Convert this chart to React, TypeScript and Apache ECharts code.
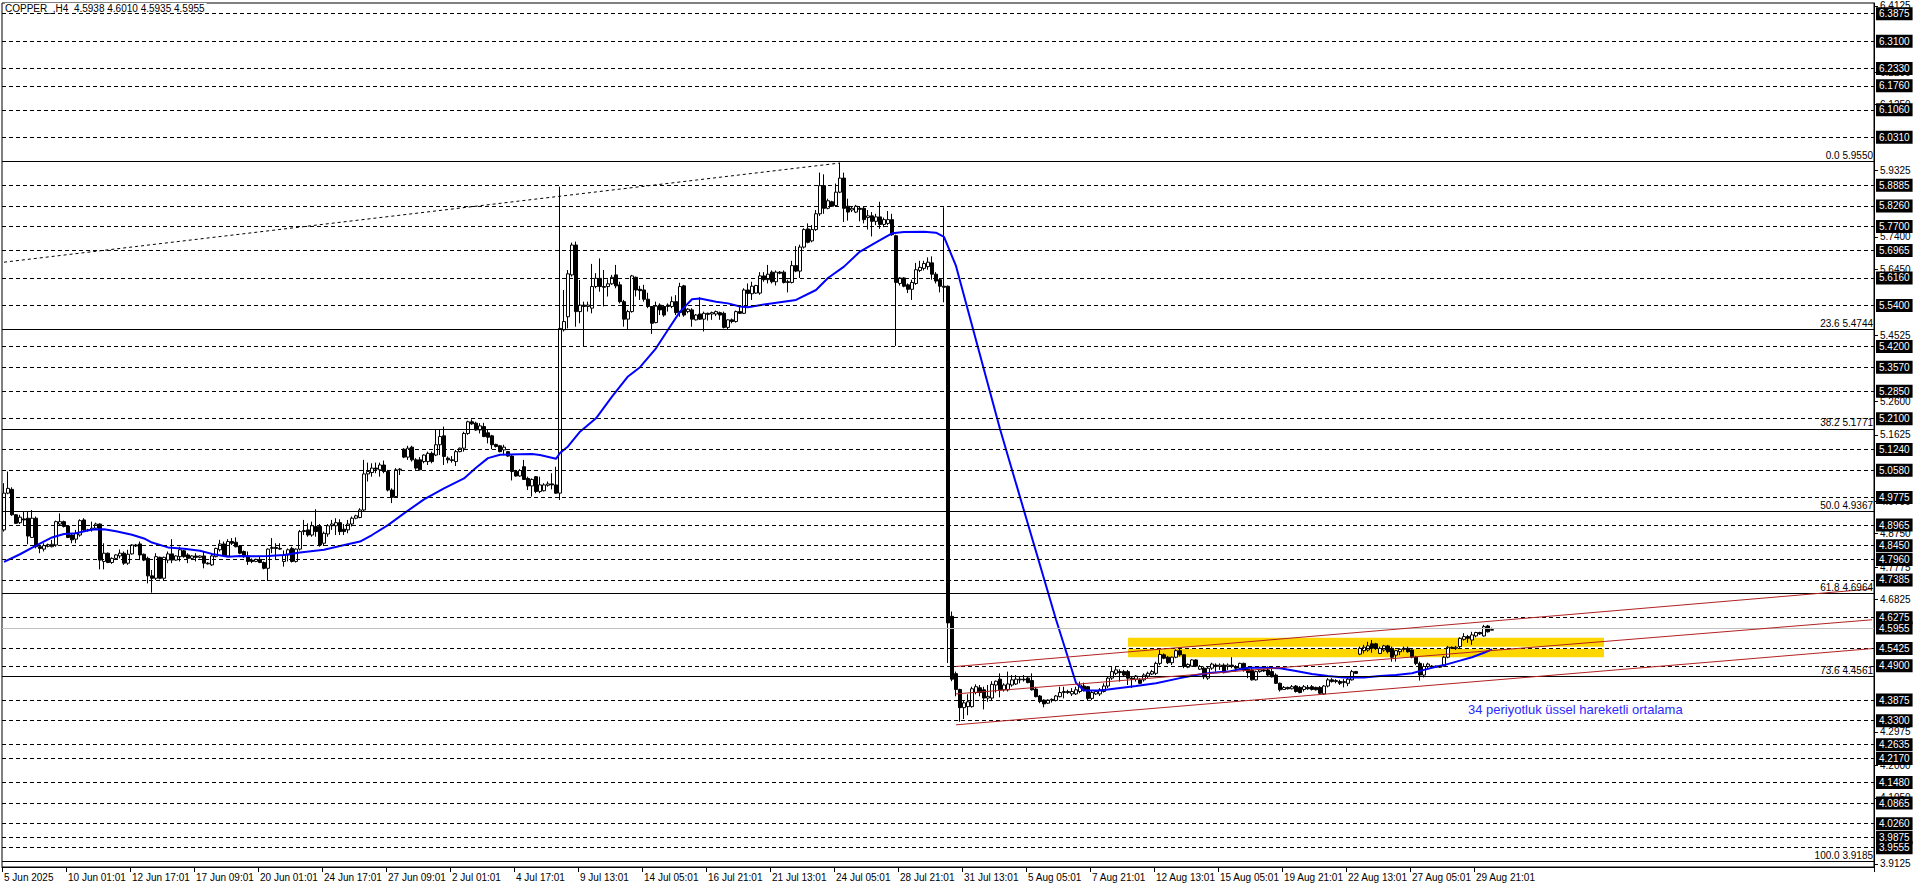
import React, { useEffect, useRef } from 'react';
import * as echarts from 'echarts';

const FONT = 'Liberation Sans, Arial, sans-serif';
const SLOTS = 468;
const Y_MIN = 3.9037;
const Y_MAX = 6.4212;

const titleText = 'COPPER_,H4  4.5938 4.6010 4.5935 4.5955';
const emaNote = '34 periyotluk üssel hareketli ortalama';

const dateLabels = [
  '5 Jun 2025', '10 Jun 01:01', '12 Jun 17:01', '17 Jun 09:01', '20 Jun 01:01', '24 Jun 17:01',
  '27 Jun 09:01', '2 Jul 01:01', '4 Jul 17:01', '9 Jul 13:01', '14 Jul 05:01', '16 Jul 21:01',
  '21 Jul 13:01', '24 Jul 05:01', '28 Jul 21:01', '31 Jul 13:01', '5 Aug 05:01', '7 Aug 21:01',
  '12 Aug 13:01', '15 Aug 05:01', '19 Aug 21:01', '22 Aug 13:01', '27 Aug 05:01', '29 Aug 21:01',
];

const yTicks = [6.4125, 6.22, 6.125, 5.9325, 5.74, 5.645, 5.4525,
  5.26, 5.1625, 4.97, 4.875, 4.7775, 4.6825, 4.2975, 4.2, 4.105, 3.9125];

// horizontal dashed levels with boxed labels
const hLevels = [6.3875, 6.31, 6.233, 6.176, 6.106, 6.031, 5.8885, 5.826, 5.77, 5.6965, 5.616, 5.54,
  5.42, 5.357, 5.285, 5.21, 5.124, 5.058, 4.9775, 4.8965, 4.845, 4.796, 4.7385, 4.6275, 4.5425, 4.49,
  4.3875, 4.33, 4.2635, 4.217, 4.148, 4.0865, 4.026, 3.9875, 3.9555];

// fibonacci levels [percent, price]
const fibLevels = [[0.0, 5.955], [23.6, 5.4744], [38.2, 5.1771], [50.0, 4.9367], [61.8, 4.6964], [73.6, 4.4561], [100.0, 3.9185]];
const fibDiagonal = [[0, 5.666], [209, 5.955]];
const lastPrice = 4.5955;

// red channel lines [[barFrom, price], [barTo, price]]
const channelLines = [
  [[238, 4.488], [467, 4.714]],
  [[238, 4.408], [467, 4.624]],
  [[238, 4.318], [467, 4.540]],
];

// yellow zone
const zoneBars = [281, 400];
const zoneUpper = [4.5454, 4.572];
const zoneLower = [4.515, 4.5396];

// candles: [open, close, low, high]
const ohlc = [
  [4.886, 4.993, 4.881, 5.022], [4.993, 5.007, 4.990, 5.056], [5.004, 4.930, 4.927, 5.010], [4.930, 4.905, 4.903, 4.932],
  [4.907, 4.923, 4.903, 4.930], [4.918, 4.915, 4.900, 4.939], [4.920, 4.868, 4.844, 4.939], [4.864, 4.920, 4.863, 4.944],
  [4.920, 4.837, 4.832, 4.925], [4.837, 4.832, 4.818, 4.842], [4.830, 4.840, 4.823, 4.847], [4.838, 4.843, 4.835, 4.846],
  [4.837, 4.844, 4.835, 4.857], [4.842, 4.910, 4.837, 4.913], [4.903, 4.910, 4.897, 4.934], [4.910, 4.896, 4.893, 4.913],
  [4.897, 4.864, 4.862, 4.900], [4.871, 4.857, 4.847, 4.876], [4.859, 4.876, 4.847, 4.886], [4.871, 4.913, 4.866, 4.917],
  [4.915, 4.886, 4.881, 4.920], [4.886, 4.884, 4.881, 4.889], [4.886, 4.891, 4.881, 4.910], [4.891, 4.903, 4.886, 4.907],
  [4.903, 4.798, 4.771, 4.905], [4.794, 4.818, 4.771, 4.847], [4.818, 4.791, 4.789, 4.820], [4.791, 4.803, 4.787, 4.806],
  [4.803, 4.813, 4.801, 4.815], [4.810, 4.818, 4.803, 4.829], [4.818, 4.789, 4.784, 4.823], [4.789, 4.815, 4.784, 4.828],
  [4.816, 4.842, 4.814, 4.844], [4.842, 4.839, 4.836, 4.845], [4.845, 4.813, 4.798, 4.852], [4.815, 4.798, 4.795, 4.817],
  [4.803, 4.752, 4.730, 4.808], [4.752, 4.745, 4.703, 4.769], [4.745, 4.808, 4.740, 4.818], [4.806, 4.745, 4.742, 4.808],
  [4.745, 4.806, 4.740, 4.808], [4.798, 4.816, 4.789, 4.823], [4.816, 4.798, 4.789, 4.859], [4.798, 4.810, 4.796, 4.812],
  [4.808, 4.828, 4.794, 4.837], [4.825, 4.808, 4.805, 4.828], [4.813, 4.803, 4.789, 4.818], [4.803, 4.810, 4.800, 4.812],
  [4.810, 4.806, 4.794, 4.818], [4.806, 4.810, 4.803, 4.812], [4.810, 4.789, 4.774, 4.823], [4.789, 4.787, 4.785, 4.792],
  [4.784, 4.810, 4.781, 4.816], [4.808, 4.832, 4.806, 4.834], [4.828, 4.845, 4.823, 4.857], [4.845, 4.810, 4.808, 4.852],
  [4.810, 4.852, 4.808, 4.859], [4.852, 4.847, 4.842, 4.862], [4.850, 4.837, 4.835, 4.864], [4.839, 4.818, 4.815, 4.842],
  [4.823, 4.808, 4.805, 4.826], [4.810, 4.794, 4.784, 4.823],
  // 62
  [4.798, 4.794, 4.789, 4.803], [4.794, 4.800, 4.792, 4.802], [4.800, 4.791, 4.789, 4.808], [4.791, 4.774, 4.771, 4.794],
  [4.774, 4.830, 4.737, 4.832], [4.832, 4.835, 4.818, 4.862], [4.835, 4.832, 4.798, 4.847], [4.832, 4.830, 4.828, 4.847],
  [4.794, 4.813, 4.779, 4.826], [4.813, 4.828, 4.794, 4.832], [4.832, 4.794, 4.791, 4.837], [4.794, 4.830, 4.791, 4.832],
  [4.830, 4.881, 4.826, 4.886], [4.881, 4.884, 4.871, 4.915], [4.886, 4.871, 4.866, 4.905], [4.871, 4.898, 4.866, 4.910],
  [4.896, 4.881, 4.866, 4.946], [4.896, 4.842, 4.837, 4.903], [4.847, 4.876, 4.839, 4.881], [4.874, 4.898, 4.866, 4.903],
  [4.898, 4.903, 4.886, 4.915], [4.898, 4.907, 4.871, 4.920], [4.907, 4.881, 4.871, 4.917], [4.888, 4.881, 4.871, 4.903],
  [4.886, 4.903, 4.876, 4.915], [4.903, 4.920, 4.896, 4.925], [4.920, 4.927, 4.917, 4.930], [4.922, 4.944, 4.920, 4.949],
  [4.944, 5.049, 4.939, 5.090], [5.049, 5.056, 5.027, 5.082], [5.053, 5.066, 5.041, 5.080], [5.066, 5.063, 5.051, 5.082],
  [5.061, 5.075, 5.041, 5.082], [5.075, 5.056, 5.051, 5.088], [5.056, 5.002, 4.998, 5.061], [5.002, 4.981, 4.964, 5.007],
  [4.983, 5.061, 4.981, 5.066], [5.061, 5.063, 5.046, 5.066], [5.121, 5.098, 5.095, 5.124], [5.098, 5.124, 5.090, 5.131],
  [5.127, 5.090, 5.085, 5.131], [5.090, 5.066, 5.061, 5.095], [5.090, 5.061, 5.059, 5.098], [5.085, 5.104, 5.080, 5.106],
  [5.085, 5.109, 5.075, 5.114], [5.109, 5.085, 5.080, 5.114], [5.104, 5.134, 5.101, 5.179], [5.134, 5.158, 5.104, 5.177],
  [5.160, 5.100, 5.075, 5.187], [5.095, 5.090, 5.080, 5.100], [5.090, 5.088, 5.082, 5.101], [5.085, 5.114, 5.072, 5.119],
  [5.114, 5.124, 5.112, 5.126], [5.124, 5.167, 5.114, 5.172], [5.167, 5.201, 5.163, 5.204], [5.201, 5.195, 5.192, 5.208],
  [5.197, 5.177, 5.175, 5.201], [5.177, 5.189, 5.167, 5.197], [5.187, 5.158, 5.156, 5.198], [5.169, 5.156, 5.138, 5.177],
  [5.160, 5.134, 5.121, 5.163], [5.135, 5.129, 5.126, 5.137], [5.131, 5.114, 5.112, 5.133],
  // 125
  [5.119, 5.127, 5.104, 5.134], [5.114, 5.101, 5.099, 5.116], [5.101, 5.056, 5.030, 5.104], [5.056, 5.043, 5.041, 5.061],
  [5.043, 5.059, 5.041, 5.063], [5.070, 5.033, 5.032, 5.090], [5.036, 5.014, 5.002, 5.041], [5.014, 5.033, 4.983, 5.036],
  [5.041, 4.998, 4.993, 5.043], [4.998, 5.017, 4.993, 5.041], [5.000, 5.017, 4.998, 5.022], [5.016, 5.020, 5.012, 5.027],
  [5.020, 5.017, 5.004, 5.051], [5.017, 4.993, 4.991, 5.070], [4.993, 5.473, 4.973, 5.886], [5.469, 5.493, 5.464, 5.585],
  [5.507, 5.632, 5.473, 5.643], [5.629, 5.716, 5.624, 5.723], [5.716, 5.522, 5.478, 5.726], [5.522, 5.541, 5.488, 5.614],
  [5.541, 5.537, 5.420, 5.551], [5.537, 5.541, 5.522, 5.551], [5.532, 5.595, 5.517, 5.661], [5.595, 5.619, 5.590, 5.634],
  [5.619, 5.595, 5.580, 5.677], [5.595, 5.593, 5.537, 5.643], [5.595, 5.603, 5.566, 5.616], [5.603, 5.622, 5.600, 5.629],
  [5.629, 5.597, 5.590, 5.658], [5.600, 5.551, 5.546, 5.609], [5.551, 5.500, 5.478, 5.556], [5.500, 5.522, 5.469, 5.527],
  [5.522, 5.626, 5.519, 5.629], [5.622, 5.585, 5.566, 5.624], [5.587, 5.583, 5.556, 5.597], [5.585, 5.558, 5.551, 5.600],
  [5.558, 5.537, 5.532, 5.577], [5.537, 5.488, 5.457, 5.538], [5.490, 5.538, 5.488, 5.551], [5.541, 5.527, 5.512, 5.546],
  [5.537, 5.512, 5.507, 5.538], [5.537, 5.541, 5.522, 5.546], [5.537, 5.551, 5.532, 5.566], [5.551, 5.519, 5.512, 5.570],
  [5.519, 5.595, 5.507, 5.606], [5.597, 5.512, 5.507, 5.600], [5.522, 5.529, 5.517, 5.532], [5.527, 5.500, 5.478, 5.532],
  [5.498, 5.512, 5.496, 5.515], [5.515, 5.500, 5.498, 5.564], [5.500, 5.517, 5.464, 5.522], [5.517, 5.514, 5.496, 5.519],
  [5.515, 5.519, 5.498, 5.522], [5.515, 5.522, 5.509, 5.525], [5.519, 5.512, 5.498, 5.522], [5.517, 5.476, 5.473, 5.522],
  [5.476, 5.498, 5.471, 5.500], [5.498, 5.493, 5.488, 5.502], [5.493, 5.522, 5.490, 5.525], [5.522, 5.517, 5.515, 5.537],
  [5.517, 5.585, 5.515, 5.590], [5.585, 5.575, 5.537, 5.604],
  // 187
  [5.574, 5.596, 5.556, 5.609], [5.576, 5.598, 5.574, 5.600], [5.576, 5.626, 5.571, 5.637], [5.626, 5.615, 5.609, 5.637],
  [5.615, 5.631, 5.604, 5.658], [5.637, 5.609, 5.604, 5.642], [5.609, 5.637, 5.598, 5.642], [5.637, 5.634, 5.631, 5.640],
  [5.637, 5.607, 5.604, 5.642], [5.609, 5.607, 5.578, 5.615], [5.607, 5.656, 5.604, 5.670], [5.656, 5.640, 5.637, 5.713],
  [5.640, 5.710, 5.620, 5.717], [5.710, 5.761, 5.706, 5.765], [5.763, 5.724, 5.721, 5.779], [5.728, 5.761, 5.724, 5.774],
  [5.761, 5.807, 5.757, 5.818], [5.807, 5.889, 5.801, 5.927], [5.889, 5.823, 5.807, 5.922], [5.823, 5.845, 5.820, 5.851],
  [5.842, 5.829, 5.827, 5.845], [5.831, 5.870, 5.829, 5.895], [5.870, 5.911, 5.867, 5.955], [5.911, 5.823, 5.783, 5.927],
  [5.829, 5.812, 5.787, 5.851], [5.818, 5.823, 5.812, 5.829], [5.812, 5.829, 5.809, 5.833], [5.823, 5.820, 5.785, 5.829],
  [5.823, 5.790, 5.779, 5.829], [5.796, 5.801, 5.761, 5.818], [5.801, 5.785, 5.741, 5.812], [5.785, 5.798, 5.774, 5.807],
  [5.798, 5.776, 5.763, 5.842], [5.776, 5.790, 5.768, 5.796], [5.779, 5.790, 5.774, 5.815], [5.790, 5.746, 5.743, 5.807],
  [5.743, 5.607, 5.422, 5.746], [5.604, 5.620, 5.598, 5.622], [5.620, 5.596, 5.593, 5.622], [5.600, 5.587, 5.576, 5.604],
  [5.587, 5.607, 5.556, 5.615], [5.604, 5.644, 5.600, 5.664], [5.642, 5.651, 5.637, 5.670], [5.648, 5.662, 5.642, 5.670],
  [5.653, 5.666, 5.644, 5.680], [5.664, 5.631, 5.615, 5.683], [5.631, 5.611, 5.604, 5.637], [5.615, 5.596, 5.578, 5.620],
  [5.596, 5.593, 5.549, 5.826], [5.596, 4.615, 4.498, 5.598], [4.634, 4.451, 4.445, 4.648], [4.467, 4.421, 4.401, 4.473],
  [4.421, 4.368, 4.327, 4.423], [4.368, 4.382, 4.335, 4.390], [4.371, 4.385, 4.346, 4.407], [4.371, 4.423, 4.368, 4.429],
  [4.412, 4.429, 4.407, 4.436], [4.426, 4.412, 4.401, 4.434], [4.420, 4.396, 4.363, 4.429], [4.396, 4.401, 4.385, 4.434],
  [4.396, 4.436, 4.388, 4.445], [4.434, 4.445, 4.412, 4.447],
  // 249
  [4.451, 4.420, 4.398, 4.468], [4.420, 4.434, 4.415, 4.439], [4.420, 4.437, 4.415, 4.473], [4.434, 4.449, 4.429, 4.463],
  [4.437, 4.451, 4.434, 4.463], [4.449, 4.451, 4.439, 4.458], [4.451, 4.449, 4.444, 4.463], [4.454, 4.441, 4.439, 4.458],
  [4.447, 4.420, 4.418, 4.468], [4.422, 4.400, 4.398, 4.429], [4.402, 4.386, 4.381, 4.405], [4.390, 4.379, 4.369, 4.392],
  [4.381, 4.390, 4.379, 4.392], [4.390, 4.392, 4.383, 4.395], [4.389, 4.402, 4.386, 4.405], [4.400, 4.412, 4.398, 4.429],
  [4.412, 4.415, 4.395, 4.429], [4.415, 4.412, 4.408, 4.420], [4.408, 4.415, 4.402, 4.425], [4.408, 4.420, 4.405, 4.429],
  [4.415, 4.434, 4.410, 4.444], [4.431, 4.418, 4.415, 4.441], [4.429, 4.395, 4.390, 4.431], [4.395, 4.412, 4.390, 4.418],
  [4.408, 4.415, 4.405, 4.418], [4.408, 4.420, 4.402, 4.425], [4.415, 4.431, 4.412, 4.439], [4.431, 4.454, 4.425, 4.458],
  [4.454, 4.473, 4.449, 4.486], [4.468, 4.478, 4.463, 4.488], [4.473, 4.470, 4.444, 4.480], [4.473, 4.463, 4.460, 4.478],
  [4.473, 4.454, 4.434, 4.478], [4.454, 4.451, 4.425, 4.458], [4.451, 4.460, 4.444, 4.463], [4.449, 4.439, 4.437, 4.454],
  [4.449, 4.463, 4.444, 4.468], [4.460, 4.468, 4.454, 4.473], [4.466, 4.473, 4.463, 4.478], [4.468, 4.497, 4.463, 4.502],
  [4.497, 4.523, 4.492, 4.536], [4.522, 4.512, 4.509, 4.526], [4.515, 4.499, 4.495, 4.519], [4.499, 4.515, 4.492, 4.517],
  [4.515, 4.534, 4.512, 4.538], [4.534, 4.522, 4.517, 4.544], [4.522, 4.488, 4.483, 4.524], [4.486, 4.494, 4.483, 4.497],
  [4.489, 4.507, 4.488, 4.509], [4.507, 4.489, 4.486, 4.509], [4.480, 4.488, 4.478, 4.492], [4.483, 4.458, 4.451, 4.488],
  [4.454, 4.483, 4.449, 4.488], [4.483, 4.495, 4.478, 4.499], [4.492, 4.488, 4.473, 4.497], [4.488, 4.492, 4.478, 4.497],
  [4.492, 4.470, 4.468, 4.497], [4.488, 4.492, 4.478, 4.497], [4.492, 4.488, 4.483, 4.515], [4.488, 4.483, 4.473, 4.492],
  [4.483, 4.497, 4.478, 4.499], [4.497, 4.478, 4.473, 4.499], [4.480, 4.470, 4.454, 4.483],
  // 312
  [4.478, 4.449, 4.447, 4.483], [4.449, 4.473, 4.447, 4.476], [4.473, 4.478, 4.470, 4.481], [4.478, 4.475, 4.472, 4.480],
  [4.478, 4.463, 4.458, 4.488], [4.473, 4.458, 4.456, 4.488], [4.463, 4.439, 4.437, 4.468], [4.439, 4.420, 4.415, 4.441],
  [4.421, 4.427, 4.420, 4.431], [4.427, 4.423, 4.421, 4.429], [4.423, 4.429, 4.421, 4.434], [4.431, 4.415, 4.412, 4.434],
  [4.427, 4.412, 4.410, 4.431], [4.421, 4.429, 4.415, 4.434], [4.427, 4.423, 4.420, 4.434], [4.429, 4.421, 4.418, 4.434],
  [4.427, 4.420, 4.418, 4.429], [4.427, 4.410, 4.408, 4.431], [4.408, 4.431, 4.405, 4.434], [4.431, 4.449, 4.427, 4.454],
  [4.449, 4.444, 4.441, 4.454], [4.444, 4.447, 4.439, 4.451], [4.444, 4.439, 4.434, 4.449], [4.441, 4.444, 4.427, 4.451],
  [4.439, 4.451, 4.431, 4.456], [4.449, 4.473, 4.447, 4.478], [4.473, 4.468, 4.466, 4.475], [4.524, 4.541, 4.521, 4.546],
  [4.534, 4.544, 4.526, 4.551], [4.536, 4.548, 4.531, 4.560], [4.554, 4.541, 4.528, 4.565], [4.554, 4.541, 4.536, 4.557],
  [4.526, 4.541, 4.524, 4.546], [4.536, 4.548, 4.531, 4.551], [4.548, 4.531, 4.526, 4.551], [4.541, 4.515, 4.502, 4.546],
  [4.521, 4.534, 4.502, 4.536], [4.531, 4.538, 4.521, 4.541], [4.538, 4.541, 4.531, 4.546], [4.541, 4.531, 4.528, 4.546],
  [4.536, 4.515, 4.512, 4.538], [4.515, 4.497, 4.492, 4.519], [4.497, 4.463, 4.447, 4.502], [4.463, 4.488, 4.456, 4.497],
  [4.488, 4.495, 4.483, 4.499], [4.489, 4.486, 4.483, 4.492], [4.486, 4.489, 4.484, 4.491], [4.489, 4.486, 4.484, 4.491],
  [4.489, 4.515, 4.488, 4.519], [4.515, 4.544, 4.512, 4.548], [4.544, 4.541, 4.539, 4.546], [4.541, 4.544, 4.536, 4.548],
  [4.546, 4.570, 4.541, 4.573], [4.567, 4.575, 4.563, 4.585], [4.575, 4.570, 4.557, 4.580], [4.565, 4.580, 4.551, 4.589],
  [4.577, 4.587, 4.573, 4.589], [4.587, 4.583, 4.580, 4.589], [4.577, 4.604, 4.575, 4.609], [4.606, 4.589, 4.587, 4.609],
  [4.5938, 4.5955, 4.5935, 4.601],
];

// 34-period EMA readings [bar, value]
const ema = [
  [0, 4.793], [4, 4.815], [8, 4.840], [12, 4.864], [15, 4.874], [18, 4.876], [22, 4.887], [25, 4.888], [28, 4.882],
  [32, 4.872], [35, 4.861], [37, 4.849], [41, 4.835], [45, 4.831], [49, 4.825], [52, 4.816], [56, 4.808], [59, 4.810],
  [62, 4.809], [66, 4.810], [70, 4.813], [74, 4.820], [80, 4.828], [84, 4.839], [89, 4.852], [92, 4.871], [96, 4.900],
  [100, 4.934], [105, 4.975], [110, 5.007], [115, 5.036], [118, 5.067], [121, 5.095], [124, 5.105], [132, 5.107],
  [134, 5.104], [138, 5.093], [139, 5.110], [141, 5.129], [144, 5.172], [148, 5.211], [152, 5.274], [156, 5.333],
  [159, 5.360], [163, 5.415], [166, 5.469], [169, 5.522], [172, 5.558], [174, 5.560], [178, 5.551], [181, 5.546],
  [184, 5.537], [186, 5.535], [190, 5.543], [198, 5.556], [203, 5.585], [206, 5.620], [210, 5.653], [214, 5.697],
  [219, 5.730], [222, 5.750], [225, 5.754], [230, 5.755], [233, 5.752], [235, 5.740], [238, 5.655], [249, 5.180],
  [263, 4.625], [268, 4.440], [270, 4.418], [274, 4.418], [278, 4.424], [283, 4.431], [288, 4.439], [294, 4.454],
  [298, 4.463], [302, 4.470], [306, 4.473], [311, 4.484], [315, 4.484], [319, 4.483], [323, 4.475], [327, 4.466],
  [331, 4.460], [335, 4.456], [340, 4.456], [344, 4.460], [348, 4.463], [352, 4.468], [355, 4.478], [358, 4.487],
  [360, 4.492], [364, 4.505], [367, 4.515], [370, 4.528], [372, 4.538],
];

export default function App() {
  const ref = useRef<HTMLDivElement>(null);

  useEffect(() => {
    if (!ref.current) return;
    const chart = echarts.init(ref.current, null, { renderer: 'svg' });
    const cats = Array.from({ length: SLOTS }, (_, i) => String(i));
    const isLabelIdx = (i: number) => i % 16 === 0 && i / 16 < dateLabels.length;

    const boxLabel = (text: string) => ({
      show: true,
      position: 'end',
      distance: 2,
      formatter: text,
      backgroundColor: '#000',
      color: '#fff',
      padding: [2, 3, 1, 3],
      fontSize: 10,
      fontFamily: FONT,
    });

    const lines: any[] = [];
    hLevels.forEach((v) =>
      lines.push({ yAxis: v, lineStyle: { type: [4, 3], color: '#000', width: 1 }, label: boxLabel(v.toFixed(4)) })
    );
    fibLevels.forEach(([lvl, v]) =>
      lines.push({
        yAxis: v,
        lineStyle: { type: 'solid', color: '#000', width: 1 },
        label: {
          show: true, position: 'insideEndTop', distance: 1,
          formatter: `${lvl.toFixed(1)} ${v.toFixed(4)}`,
          color: '#000', fontSize: 10, fontFamily: FONT,
        },
      })
    );
    lines.push({ yAxis: lastPrice, lineStyle: { type: 'solid', color: '#c0c0c0', width: 1 }, label: boxLabel(lastPrice.toFixed(4)) });
    channelLines.forEach(([a, b]) =>
      lines.push([
        { coord: a, lineStyle: { type: 'solid', color: '#b22222', width: 1 }, label: { show: false } },
        { coord: b, label: { show: false } },
      ])
    );
    lines.push([
      { coord: fibDiagonal[0], lineStyle: { type: [3, 3], color: '#000', width: 1 }, label: { show: false } },
      { coord: fibDiagonal[1], label: { show: false } },
    ]);

    const option: any = {
      animation: false,
      backgroundColor: '#ffffff',
      textStyle: { fontFamily: FONT },
      title: {
        text: titleText,
        left: 5,
        top: 3,
        padding: [0, 2, 0, 0],
        backgroundColor: '#fff',
        textStyle: { fontSize: 10, fontWeight: 'normal', color: '#000', fontFamily: FONT },
      },
      grid: { left: 2, top: 3, width: SLOTS * 4, height: 864, show: true, borderColor: '#000', borderWidth: 1 },
      xAxis: {
        type: 'category',
        data: cats,
        boundaryGap: true,
        axisLine: { show: true, lineStyle: { color: '#000', width: 1 } },
        axisTick: { show: true, length: 5, interval: (i: number) => isLabelIdx(i), lineStyle: { color: '#000' } },
        axisLabel: {
          interval: (i: number) => isLabelIdx(i),
          formatter: (_v: string, i: number) => (isLabelIdx(i) ? dateLabels[i / 16] : ''),
          align: 'left',
          margin: 5,
          color: '#000',
          fontSize: 10,
          fontFamily: FONT,
        },
        splitLine: { show: false },
      },
      yAxis: {
        type: 'value',
        position: 'right',
        min: Y_MIN,
        max: Y_MAX,
        axisLine: { show: true, lineStyle: { color: '#000', width: 1 } },
        axisTick: { show: true, length: 4, customValues: yTicks, lineStyle: { color: '#000' } },
        axisLabel: {
          customValues: yTicks,
          formatter: (v: number) => v.toFixed(4),
          margin: 6,
          color: '#000',
          fontSize: 10,
          fontFamily: FONT,
        },
        splitLine: { show: false },
      },
      graphic: [
        {
          type: 'text',
          left: 1468,
          top: 703,
          z: 10,
          style: { text: emaNote, fill: '#2a2aff', font: `13px ${FONT}` },
        },
      ],
      series: [
        {
          type: 'candlestick',
          data: ohlc,
          barWidth: 3,
          z: 3,
          itemStyle: {
            color: '#ffffff',
            color0: '#000000',
            borderColor: '#000000',
            borderColor0: '#000000',
            borderColorDoji: '#000000',
            borderWidth: 1,
          },
          markArea: {
            silent: true,
            z: 1,
            itemStyle: { color: '#ffd700', opacity: 1 },
            data: [
              [{ coord: [zoneBars[0], zoneUpper[0]] }, { coord: [zoneBars[1], zoneUpper[1]] }],
              [{ coord: [zoneBars[0], zoneLower[0]] }, { coord: [zoneBars[1], zoneLower[1]] }],
            ],
          },
          markLine: {
            silent: true,
            symbol: ['none', 'none'],
            data: lines,
          },
        },
        {
          type: 'line',
          data: ema,
          z: 4,
          showSymbol: false,
          symbol: 'none',
          lineStyle: { color: '#0000ff', width: 2 },
        },
      ],
    };

    chart.setOption(option);
    return () => chart.dispose();
  }, []);

  return (
    <div
      ref={ref}
      style={{ position: 'fixed', left: 0, top: 0, width: 1916, height: 888, background: '#fff' }}
    />
  );
}
